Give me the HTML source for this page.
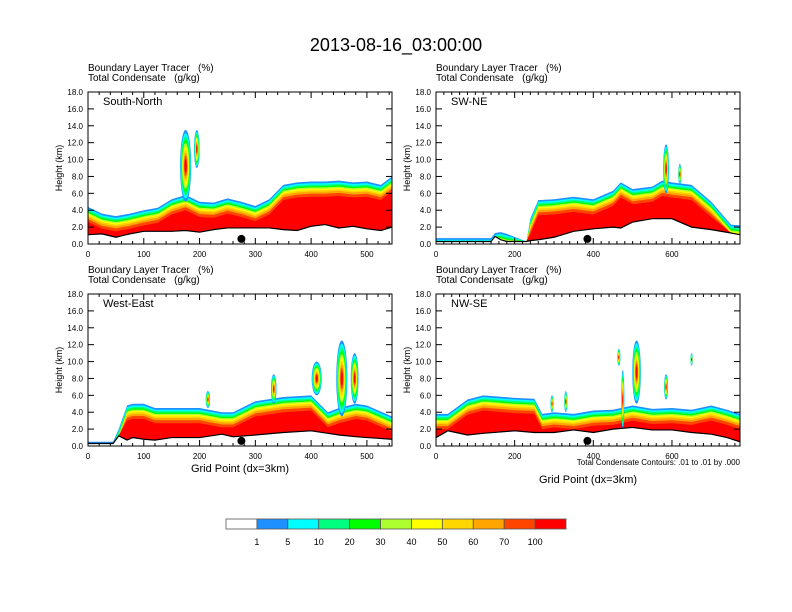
<!DOCTYPE html>
<html><head><meta charset="utf-8"><style>
body{margin:0;background:#fff}
svg{display:block;font-family:"Liberation Sans",sans-serif}
text{white-space:pre}
</style></head><body>
<svg id="c" width="792" height="612" viewBox="0 0 792 612">
<rect width="792" height="612" fill="#fff"/>
<text x="396" y="51" font-size="18" text-anchor="middle">2013-08-16_03:00:00</text>
<g id="panels"></g>
<g id="cbar"></g>
</svg>
<script>
const colors = ["#1e90ff","#00ffff","#00ff7f","#00ff00","#adff2f","#ffff00","#ffd700","#ffa500","#ff4500","#ff0000"];
const levelLabels = ["1","5","10","20","30","40","50","60","70","100"];
const layerOffsets = [0,0.2,0.38,0.55,0.7,0.85,1.0,1.2,1.45,1.8];

const p1X = [0,25,50,75,100,125,150,175,200,225,250,275,300,325,350,375,400,425,450,475,500,525,545];
const p1Terrain = [1.1,1.2,0.8,1.2,1.5,1.5,1.5,1.6,1.4,1.7,1.9,1.9,1.9,1.9,1.7,1.6,2.1,2.3,1.9,2.1,1.8,1.6,2.0];
const p1Top = [4.4,3.6,3.3,3.6,4.0,4.3,5.3,5.8,5.0,4.9,5.4,5.0,4.5,5.3,7.0,7.3,7.4,7.4,7.5,7.3,7.4,7.0,8.0];
const p1CellX = [175,195];
const p1CellBase = [5.0,9.0];
const p1CellTop = [13.5,13.5];
const p1CellW = [20,10];

const p2X = [0,140,150,165,180,230,240,260,300,350,400,450,470,500,550,575,600,650,700,750,773];
const p2Terrain = [0.3,0.3,0.9,0.5,0.3,0.3,0.4,0.5,0.8,1.5,1.8,2.0,1.9,2.6,3.0,3.0,3.0,2.0,1.7,1.3,1.1];
const p2Top = [0.7,0.7,1.3,1.4,1.2,0.3,3.0,5.2,5.3,5.6,5.3,6.3,7.3,6.5,6.8,7.5,7.3,7.0,5.0,2.3,2.2];
const p2CellX = [585,620];
const p2CellBase = [6.0,7.0];
const p2CellTop = [11.8,9.5];
const p2CellW = [15,8];

const p3X = [0,45,55,70,80,100,120,150,200,240,260,300,350,400,430,450,480,500,545];
const p3Terrain = [0.3,0.3,1.2,0.7,1.0,0.8,0.7,1.0,1.0,1.4,1.1,1.3,1.6,1.8,1.5,1.3,1.1,1.0,0.8];
const p3Top = [0.5,0.5,2.0,4.8,5.0,5.0,4.5,4.5,4.5,4.0,4.0,5.3,5.8,6.0,4.0,4.5,5.0,4.8,3.5];
const p3CellX = [215,333,410,455,478];
const p3CellBase = [4.5,5.0,6.0,3.5,5.0];
const p3CellTop = [6.5,8.5,10.0,12.5,11.0];
const p3CellW = [8,10,18,20,14];

const p4X = [0,30,80,120,200,250,270,300,350,400,450,500,550,600,650,700,740,773];
const p4Terrain = [1.0,1.8,1.3,1.5,1.8,1.6,1.6,1.6,1.9,1.6,2.0,2.2,1.9,1.9,1.6,1.4,1.0,0.5];
const p4Top = [3.8,3.8,5.5,6.0,5.7,5.6,3.8,4.0,3.8,4.2,4.3,4.8,4.4,4.5,4.3,4.8,4.3,3.8];
const p4CellX = [295,330,475,510,465,585,650];
const p4CellBase = [4.0,4.0,2.0,5.0,9.5,5.5,9.5];
const p4CellTop = [6.0,6.5,9.0,12.5,11.5,8.5,11.0];
const p4CellW = [8,8,8,22,8,10,6];

const NS="http://www.w3.org/2000/svg";
function mk(tag, attrs, parent){const e=document.createElementNS(NS,tag);for(const k in attrs)e.setAttribute(k,attrs[k]);parent.appendChild(e);return e;}

const panels=[
 {x0:88,y0:92,xmax:545,step:100,name:"South-North",xs:p1X,ter:p1Terrain,top:p1Top,cx:p1CellX,cb:p1CellBase,ct:p1CellTop,cw:p1CellW,dot:275,xlabel:0,foot:false},
 {x0:436,y0:92,xmax:773,step:200,name:"SW-NE",xs:p2X,ter:p2Terrain,top:p2Top,cx:p2CellX,cb:p2CellBase,ct:p2CellTop,cw:p2CellW,dot:385,xlabel:0,foot:false},
 {x0:88,y0:294,xmax:545,step:100,name:"West-East",xs:p3X,ter:p3Terrain,top:p3Top,cx:p3CellX,cb:p3CellBase,ct:p3CellTop,cw:p3CellW,dot:275,xlabel:26,foot:false},
 {x0:436,y0:294,xmax:773,step:200,name:"NW-SE",xs:p4X,ter:p4Terrain,top:p4Top,cx:p4CellX,cb:p4CellBase,ct:p4CellTop,cw:p4CellW,dot:385,xlabel:37,foot:true}
];
const W=304,H=152,YMAX=18;
const root=document.getElementById('panels');
panels.forEach((p,pi)=>{
 const g=mk('g',{},root);
 
 
 const sx=v=>p.x0+v/p.xmax*W, sy=v=>p.y0+H-v/YMAX*H;
 const t1=mk('text',{x:p.x0,y:p.y0-21,'font-size':10},g);t1.textContent="Boundary Layer Tracer   (%)";
 
 
 const t2=mk('text',{x:p.x0,y:p.y0-11,'font-size':10},g);t2.textContent="Total Condensate   (g/kg)";
 
 
 const clip='clip'+pi;
 const cp=mk('clipPath',{id:clip},g);mk('rect',{x:p.x0,y:p.y0,width:W,height:H},cp);
 const pg=mk('g',{'clip-path':'url(#'+clip+')'},g);
 layerOffsets.forEach((off,k)=>{
  let pts=p.xs.map((x,i)=>sx(x)+','+sy(Math.max(p.ter[i],p.top[i]-off)));
  for(let i=p.xs.length-1;i>=0;i--)pts.push(sx(p.xs[i])+','+sy(p.ter[i]));
  const poly=mk('polygon',{points:pts.join(' '),fill:colors[k]},pg);
  
  
 });
 p.cx.forEach((cx,i)=>{
  const cyv=(p.cb[i]+p.ct[i])/2, ryv=(p.ct[i]-p.cb[i])/2;
  colors.forEach((c,k)=>{
   const f=1-k*0.09;
   const e=mk('ellipse',{cx:sx(cx),cy:sy(cyv),rx:Math.max(0.5,p.cw[i]/2/p.xmax*W*f),ry:Math.max(0.5,ryv/YMAX*H*f),fill:c},pg);
   
   
  });
 });
 let below=p.xs.map((x,i)=>sx(x)+','+sy(p.ter[i]));
 below.push(sx(p.xmax)+','+sy(0),sx(0)+','+sy(0));
 const gr=mk('polygon',{points:below.join(' '),fill:'#fff'},pg);
 
 
 const tl=mk('polyline',{points:p.xs.map((x,i)=>sx(x)+','+sy(p.ter[i])).join(' '),fill:'none',stroke:'#000','stroke-width':1.2},pg);
 
 
 const d=mk('circle',{cx:sx(p.dot),cy:sy(0.6),r:4,fill:'#000'},g);
 
 
 const fr=mk('rect',{x:p.x0,y:p.y0,width:W,height:H,fill:'none',stroke:'#000','stroke-width':1},g);
 
 
 const nm=mk('text',{x:p.x0+15,y:p.y0+13,'font-size':11},g);nm.textContent=p.name;
 
 
 for(let v=0;v<=YMAX;v+=2){
  const y=sy(v);
  mk('line',{x1:p.x0,x2:p.x0+6,y1:y,y2:y,stroke:'#000'},g);
  mk('line',{x1:p.x0+W,x2:p.x0+W-6,y1:y,y2:y,stroke:'#000'},g);
  const tt=mk('text',{x:p.x0-5,y:y+3,'font-size':8,'text-anchor':'end'},g);tt.textContent=v.toFixed(1);
  
  
 }
 for(let v=0;v<=p.xmax;v+=20){
  const x=sx(v),maj=(v%p.step===0);
  const L=maj?6:3;
  mk('line',{x1:x,x2:x,y1:p.y0+H,y2:p.y0+H-L,stroke:'#000'},g);
  mk('line',{x1:x,x2:x,y1:p.y0,y2:p.y0+L,stroke:'#000'},g);
  if(maj){const tx=mk('text',{x:x,y:p.y0+H+13,'font-size':8,'text-anchor':'middle'},g);tx.textContent=v;
   
   }
 }
 const yl=mk('text',{x:0,y:0,'font-size':9,'text-anchor':'middle',transform:`translate(${p.x0-26},${p.y0+H/2}) rotate(-90)`},g);yl.textContent="Height (km)";
 
 
 if(p.xlabel){const xl=mk('text',{x:p.x0+W/2,y:p.y0+H+p.xlabel,'font-size':11,'text-anchor':'middle'},g);xl.textContent="Grid Point (dx=3km)";
  
  }
 if(p.foot){const ft=mk('text',{x:p.x0+W,y:p.y0+H+19,'font-size':8,'text-anchor':'end'},g);ft.textContent="Total Condensate Contours: .01 to .01 by .000";
  
  }
});
const cb=document.getElementById('cbar');
const bw=340/11;
["#ffffff"].concat(colors).forEach((c,i)=>{
 const r=mk('rect',{x:226+i*bw,y:519,width:bw,height:10,fill:c,stroke:'#555','stroke-width':0.8},cb);
 
 
});
levelLabels.forEach((l,i)=>{
 const t=mk('text',{x:226+(i+1)*bw,y:545,'font-size':9,'text-anchor':'middle'},cb);t.textContent=l;
 
 
});
</script>
</body></html>
